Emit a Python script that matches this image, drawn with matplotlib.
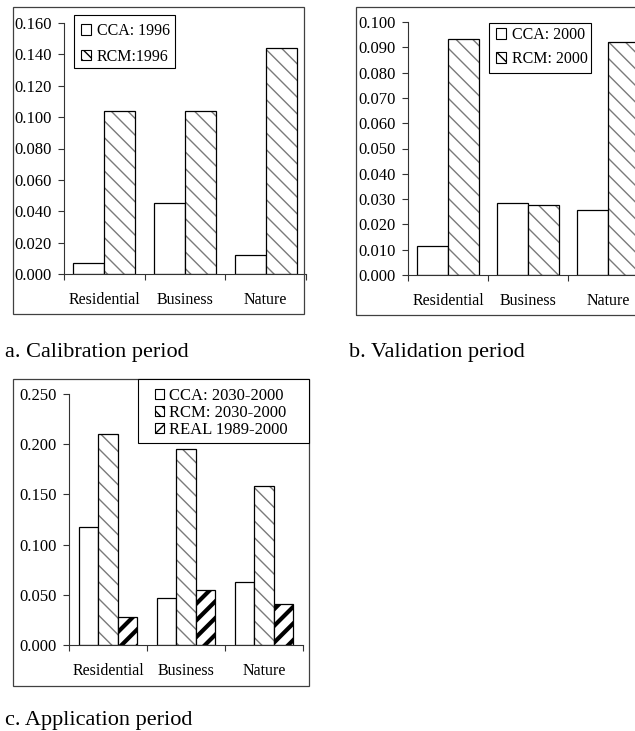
import matplotlib
matplotlib.use('Agg')
import matplotlib.pyplot as plt
from matplotlib.patches import Rectangle, Patch
import numpy as np

plt.rcParams['font.family'] = ['Liberation Serif', 'DejaVu Serif']

W, H = 635, 731

categories = ['Residential', 'Business', 'Nature']

# a. calibration
cal_cca = [0.007, 0.045, 0.012]
cal_rcm = [0.104, 0.104, 0.144]
# b. validation
val_cca = [0.0115, 0.0285, 0.0256]
val_rcm = [0.0934, 0.0275, 0.0922]
# c. application
app_cca = [0.118, 0.047, 0.063]
app_rcm = [0.210, 0.195, 0.158]
app_real = [0.028, 0.055, 0.041]


def px_box(l, t, r, b):
    return [l / W, 1 - b / H, (r - l) / W, (b - t) / H]


def px_rect(l, t, r, b, **kw):
    fig.patches.append(Rectangle((l / W, 1 - b / H), (r - l) / W, (b - t) / H,
                                 transform=fig.transFigure, **kw))


fig = plt.figure(figsize=(W / 100, H / 100), dpi=100)

# outer frames (pixel coords)
for box in [(13, 7, 304, 314), (356, 7, 640, 315), (13, 379, 309, 686)]:
    px_rect(*box, fill=False, edgecolor='#404040', linewidth=0.9, zorder=0)


def set_hlw(artists, lw):
    # hatch linewidth: per patch if supported, else at draw time via rcParams
    for p in artists:
        if hasattr(p, 'set_hatch_linewidth'):
            p.set_hatch_linewidth(lw)
        orig = p.draw

        def draw(renderer, _orig=orig):
            with plt.rc_context({'hatch.linewidth': lw}):
                _orig(renderer)
        p.draw = draw


def draw_bars(ax, x, vals, width, style):
    if style == 'cca':
        ax.bar(x, vals, width, align='edge', facecolor='white',
               edgecolor='black', linewidth=0.9)
    elif style == 'rcm':
        bars = ax.bar(x, vals, width, align='edge', facecolor='white',
                      edgecolor='#7a7a7a', linewidth=0, hatch='\\\\')
        set_hlw(bars, 1.0)
        ax.bar(x, vals, width, align='edge', fill=False,
               edgecolor='black', linewidth=0.9)
    else:
        bars = ax.bar(x, vals, width, align='edge', facecolor='white',
                      edgecolor='black', linewidth=0, hatch='//')
        set_hlw(bars, 3.0)
        ax.bar(x, vals, width, align='edge', fill=False,
               edgecolor='black', linewidth=0.9)


def style_axes(ax, ymax, step, fs):
    ax.set_xlim(0, 3)
    ax.set_ylim(0, ymax)
    for s in ['top', 'right']:
        ax.spines[s].set_visible(False)
    for s in ['left', 'bottom']:
        ax.spines[s].set_linewidth(0.8)
        ax.spines[s].set_color('#333333')
    yt = np.arange(0, ymax + step / 2, step)
    ax.set_yticks(yt)
    ax.set_yticklabels(['{:.3f}'.format(v) for v in yt])
    ax.tick_params(axis='y', direction='out', length=4, width=0.8, pad=5,
                   labelsize=fs, colors='#333333', labelcolor='black')
    ax.set_xticks([0, 1, 2, 3])
    ax.set_xticklabels([])
    ax.set_xticks([0.5, 1.5, 2.5], minor=True)
    ax.set_xticklabels(categories, minor=True)
    ax.tick_params(axis='x', which='major', direction='out', length=4, width=0.8,
                   colors='#333333')
    ax.tick_params(axis='x', which='minor', length=0, pad=13, labelsize=11.5)
    ax.patch.set_alpha(0)


def add_legend(ax, handles, labels, frame_box, anchor, fs, spacing,
               textpad=0.35, hlen=0.65):
    px_rect(*frame_box, facecolor='white', edgecolor='black', linewidth=0.8,
            zorder=5)
    leg = ax.legend(handles, labels, loc='upper left',
                    bbox_to_anchor=(anchor[0] / W, 1 - anchor[1] / H),
                    bbox_transform=fig.transFigure, borderaxespad=0,
                    frameon=False, fontsize=fs, handlelength=hlen,
                    handleheight=hlen, handletextpad=textpad,
                    labelspacing=spacing, borderpad=0)
    leg.set_zorder(6)
    leg.remove()
    fig.add_artist(leg)


h_cca = Patch(facecolor='white', edgecolor='black', linewidth=0.8)
h_rcm = Patch(facecolor='white', edgecolor='black', linewidth=0.8, hatch='\\\\\\')
h_real = Patch(facecolor='white', edgecolor='black', linewidth=0.8, hatch='///')

fs = 11.5
idx = np.arange(3)

# panel a
ax_a = fig.add_axes(px_box(64, 23, 306, 274))
wa = 0.385
draw_bars(ax_a, idx + 0.5 - wa, cal_cca, wa, 'cca')
draw_bars(ax_a, idx + 0.5, cal_rcm, wa, 'rcm')
style_axes(ax_a, 0.16, 0.02, 12)
add_legend(ax_a, [h_cca, h_rcm], ['CCA: 1996', 'RCM:1996'],
           (74, 15, 175, 68), (81, 23), fs, 0.6)

# panel b
ax_b = fig.add_axes(px_box(408, 22, 648, 275))
draw_bars(ax_b, idx + 0.5 - wa, val_cca, wa, 'cca')
draw_bars(ax_b, idx + 0.5, val_rcm, wa, 'rcm')
style_axes(ax_b, 0.10, 0.01, 12)
add_legend(ax_b, [h_cca, h_rcm], ['CCA: 2000', 'RCM: 2000'],
           (489, 23, 591, 73), (496, 27), fs, 0.5)

# panel c
ax_c = fig.add_axes(px_box(69, 394, 303, 645))
wc = 0.25
draw_bars(ax_c, idx + 0.5 - 1.5 * wc, app_cca, wc, 'cca')
draw_bars(ax_c, idx + 0.5 - 0.5 * wc, app_rcm, wc, 'rcm')
draw_bars(ax_c, idx + 0.5 + 0.5 * wc, app_real, wc, 'real')
style_axes(ax_c, 0.25, 0.05, 12)
add_legend(ax_c, [h_cca, h_rcm, h_real],
           ['CCA: 2030-2000', 'RCM: 2030-2000', 'REAL 1989-2000'],
           (138, 379, 309, 443), (155, 388), 12, 0.05, textpad=0.3, hlen=0.55)

# captions
fig.text(5 / W, 1 - 357 / H, 'a. Calibration period', fontsize=16, va='baseline')
fig.text(349 / W, 1 - 357 / H, 'b. Validation period', fontsize=16, va='baseline')
fig.text(5 / W, 1 - 725 / H, 'c. Application period', fontsize=16, va='baseline')

fig.savefig('out.png', dpi=100)
